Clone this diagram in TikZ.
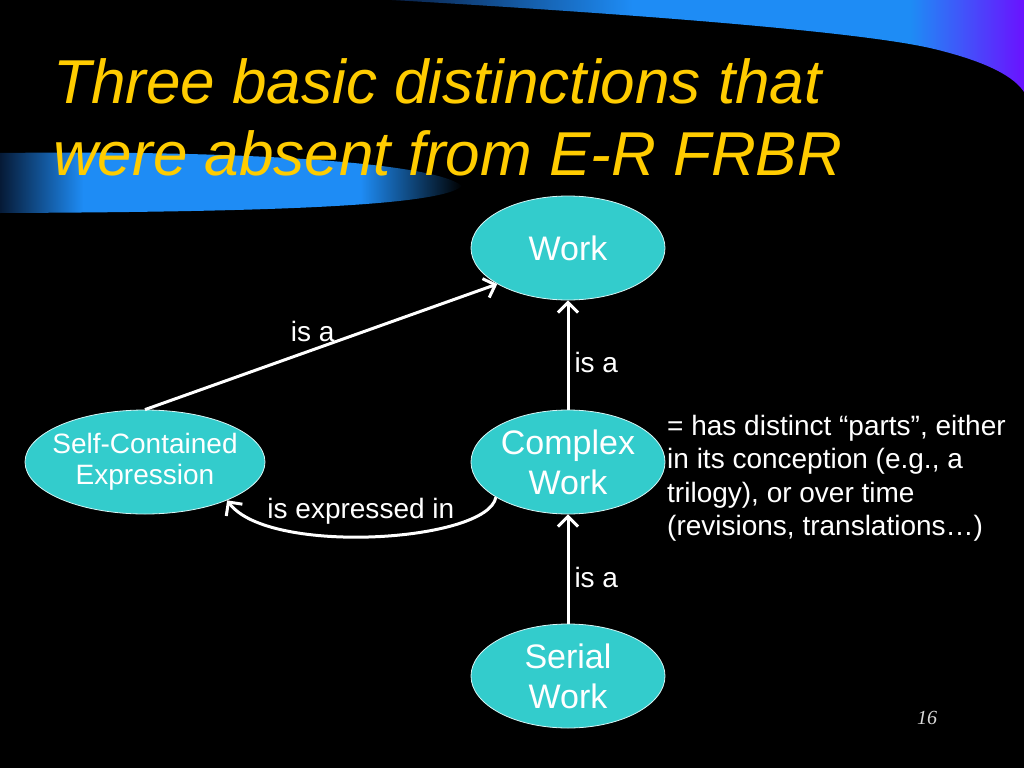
\documentclass[tikz,border=0pt]{standalone}
\usepackage{fontspec}
\setmainfont{Liberation Sans}
\newfontfamily\pagefont{Liberation Serif}
\usetikzlibrary{shapes.geometric,arrows.meta}
\definecolor{titleyellow}{HTML}{FFCC00}
\definecolor{turq}{HTML}{33CCCC}
\definecolor{swnavy}{HTML}{0A2650}
\definecolor{swdark}{HTML}{061A36}
\definecolor{swblue}{HTML}{1E8CF5}
\definecolor{swpurple}{HTML}{6A12FF}
\pgfdeclarehorizontalshading{topswoosh}{100bp}{color(0bp)=(swnavy); color(26bp)=(swnavy); color(44bp)=(swblue); color(66bp)=(swblue); color(75bp)=(swpurple); color(100bp)=(swpurple)}
\pgfdeclarehorizontalshading{leftswoosh}{100bp}{color(0bp)=(swdark); color(25bp)=(swdark); color(34bp)=(swblue); color(64bp)=(swblue); color(75bp)=(black); color(100bp)=(black)}
\begin{document}
\begin{tikzpicture}
[x=1pt,y=1pt,
entity/.style={ellipse,draw=white!80!turq,line width=0.8pt,fill=turq,text=white,inner sep=0pt,minimum width=194pt,minimum height=104pt,align=center,font=\fontsize{34}{40}\selectfont},
rel/.style={draw=white,line width=3pt,-{Straight Barb[length=10pt,width=20pt]}},
lbl/.style={text=white,font=\fontsize{28}{33}\selectfont,inner sep=2pt}]
\fill[black] (0,0) rectangle (1024,-768);
\fill[shading=topswoosh] (392,0) -- (1024,0) -- (1024,-92) .. controls (1015,-78) and (990,-62) .. (930,-48) .. controls (850,-30) and (600,-12) .. (392,0) -- cycle;
\fill[shading=leftswoosh] (0,-153) .. controls (250,-150) and (435,-163) .. (462,-186) .. controls (440,-207) and (250,-212) .. (0,-213) -- cycle;
\node[anchor=north west,inner sep=0pt,align=left,text=titleyellow,font=\fontsize{62}{72}\selectfont\itshape] (title) at (53,-58) {Three basic distinctions that\\were absent from E-R FRBR};
\node[entity] (work) at (568,-248) {Work};
\node[entity] (cw) at (568,-462) {Complex\\Work};
\node[entity] (sw) at (568,-676) {Serial\\Work};
\node[entity,minimum width=240pt,inner xsep=-9pt,font=\fontsize{28}{31}\selectfont] (sce) at (145,-462) {Self-Contained\\Expression};
\draw[rel] (sce.north) -- (work.207) node[lbl,pos=.476,above=5pt] {is a};
\draw[rel] (cw.north) -- (work.south) node[lbl,pos=.43,right=3pt] {is a};
\draw[rel] (sw.north) -- (cw.south) node[lbl,pos=.42,right=3pt] {is a};
\draw[rel] (cw.206) .. controls (488,-542) and (268,-556) .. (sce.-25) node[lbl,pos=.5,above=9pt,xshift=-13pt] {is expressed in};
\node[anchor=north west,inner sep=0pt,align=left,text=white,font=\fontsize{28}{33.5}\selectfont] (note) at (667,-415) {= has distinct “parts”, either\\in its conception (e.g., a\\trilogy), or over time\\(revisions, translations…)};
\node[text=white!85!black,font=\fontsize{20}{24}\selectfont\pagefont\itshape] (page) at (927,-718) {16};
\end{tikzpicture}
\end{document}
